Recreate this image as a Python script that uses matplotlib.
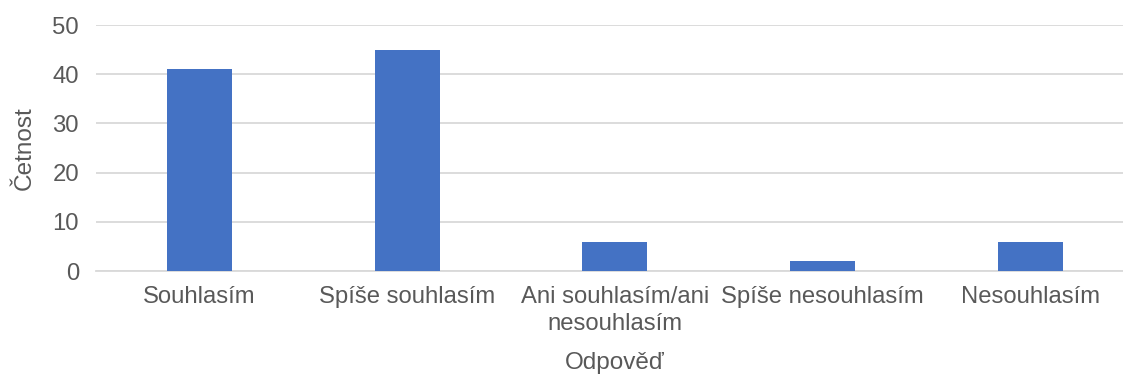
import matplotlib
matplotlib.use("Agg")
import matplotlib.pyplot as plt

categories = ["Souhlasím", "Spíše souhlasím", "Ani souhlasím/ani\nnesouhlasím",
              "Spíše nesouhlasím", "Nesouhlasím"]
counts = [41, 45, 6, 2, 6]
y_ticks = [0, 10, 20, 30, 40, 50]

plt.rcParams["font.family"] = ["Liberation Sans", "DejaVu Sans"]
text_color = "#595959"

fig = plt.figure(figsize=(11.23, 3.76), dpi=100)
ax = fig.add_axes([0.0852, 0.279, 0.9245, 0.6545])

x = range(len(categories))
ax.bar(x, counts, width=0.313, color="#4472C4", zorder=3)

ax.set_xlim(-0.5, len(categories) - 0.5)
ax.set_ylim(0, 50)
ax.set_yticks(y_ticks)
ax.yaxis.grid(True, color="#D9D9D9", linewidth=1.3, zorder=0)
ax.set_xticks(list(x))
ax.set_xticklabels(categories, fontsize=17.2, color=text_color, linespacing=1.3)
ax.tick_params(axis="y", labelsize=17.2, labelcolor=text_color, length=0, pad=12)
ax.tick_params(axis="x", length=0, pad=11)

for side in ("top", "right", "left"):
    ax.spines[side].set_visible(False)
ax.spines["bottom"].set_color("#D9D9D9")
ax.spines["bottom"].set_linewidth(1.3)

ax.set_xlabel("Odpověď", fontsize=17.5, color=text_color, labelpad=12)
ax.set_ylabel("Četnost", fontsize=17.5, color=text_color, labelpad=12)

fig.savefig("out.png", dpi=100)
